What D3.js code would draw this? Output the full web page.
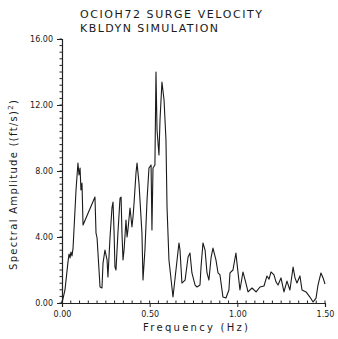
<!DOCTYPE html>
<html>
<head>
<meta charset="utf-8">
<script src="https://cdn.jsdelivr.net/npm/d3@7"></script>
<style>
  body { margin: 0; background: #fff; }
  svg text { font-family: "DejaVu Sans", sans-serif; fill: #1a1a1a; }
</style>
</head>
<body>
<svg id="chart" width="338" height="339"></svg>
<script>
// spectrum: frequency (Hz) and amplitude ((ft/s)^2)
var freq = [0.000, 0.017, 0.034, 0.040, 0.046, 0.051, 0.057, 0.063, 0.080, 0.091,
    0.097, 0.103, 0.108, 0.114, 0.120,
    0.188, 0.194, 0.200, 0.217, 0.228, 0.234, 0.245, 0.257, 0.262, 0.274,
    0.285, 0.291, 0.297, 0.302, 0.308, 0.319, 0.331, 0.337, 0.342, 0.348,
    0.354, 0.365, 0.371, 0.376, 0.388, 0.399, 0.405, 0.411, 0.422, 0.428,
    0.439, 0.456, 0.462, 0.473, 0.485, 0.496, 0.508, 0.513, 0.519, 0.530,
    0.536, 0.542, 0.553, 0.559, 0.570, 0.582, 0.593, 0.599, 0.610, 0.633,
    0.650, 0.667, 0.673, 0.684, 0.702, 0.719, 0.730, 0.741, 0.759, 0.770,
    0.787, 0.793, 0.804, 0.816, 0.827, 0.838, 0.850, 0.861, 0.878, 0.890,
    0.901, 0.918, 0.935, 0.952, 0.958, 0.975, 0.992, 0.998, 1.015, 1.032,
    1.049, 1.061,
    1.084, 1.107, 1.129, 1.152, 1.169, 1.181, 1.192, 1.209, 1.221, 1.232,
    1.249, 1.266, 1.283, 1.300, 1.318, 1.329, 1.340, 1.357, 1.369, 1.392,
    1.414, 1.432, 1.449, 1.460, 1.477, 1.489, 1.500];
var amp = [0.00, 0.79, 2.48, 2.97, 2.73, 3.09, 2.85, 3.33, 6.85, 8.48,
    7.76, 8.18, 6.85, 7.27, 4.73,
    6.42, 4.24, 3.94, 0.97, 0.91, 2.42, 3.21, 2.61, 1.58, 4.00,
    5.76, 6.12, 4.30, 2.18, 2.00, 4.24, 6.36, 6.42, 4.24, 2.61,
    3.21, 5.03, 4.00, 4.42, 5.76, 4.61, 5.21, 6.06, 7.88, 8.48,
    7.27, 4.24, 1.39, 3.21, 6.24, 8.18, 8.36, 4.42, 8.18, 8.36,
    14.00, 10.48, 8.97, 11.09, 13.39, 12.30, 9.88, 5.82, 2.61, 0.36,
    2.00, 3.64, 3.21, 1.21, 1.39, 2.79, 3.03, 1.82, 1.09, 0.97,
    1.09, 2.18, 3.64, 3.21, 1.82, 1.39, 2.73, 3.33, 2.61, 1.82,
    1.70, 0.36, 0.30, 0.79, 1.82, 2.00, 3.03, 2.42, 0.79, 1.88,
    1.21, 0.67,
    0.91, 0.67, 0.97, 1.03, 1.64, 1.45, 1.88, 1.70, 1.27, 1.09,
    1.52, 0.67, 1.33, 0.79, 2.18, 1.52, 1.21, 1.64, 0.79, 0.67,
    0.36, 0.06, 0.30, 1.09, 1.82, 1.52, 1.15];

var xTicks = [0, 0.5, 1.0, 1.5];
var yTicks = [0, 4, 8, 12, 16];
var titleLines = ["OCIOH72  SURGE  VELOCITY", "KBLDYN  SIMULATION"];

var svg = d3.select("#chart");
var margin = {top: 39, right: 13, bottom: 36, left: 62};
var width = 338 - margin.left - margin.right,
    height = 339 - margin.top - margin.bottom;

var x = d3.scaleLinear().domain([0, 1.5]).range([0, width]);
var y = d3.scaleLinear().domain([0, 16]).range([height, 0]);

var g = svg.append("g")
    .attr("transform", "translate(" + margin.left + "," + margin.top + ")");

// minor ticks
var xMinor = d3.range(0, 1.5001, 0.05);
var yMinor = d3.range(0, 16.001, 0.4);

g.selectAll(".xminor")
    .data(xMinor)
    .enter().append("line")
    .attr("x1", function(d) { return x(d); })
    .attr("x2", function(d) { return x(d); })
    .attr("y1", height)
    .attr("y2", height - 2.5)
    .attr("stroke", "#222")
    .attr("stroke-width", 1);

g.selectAll(".yminor")
    .data(yMinor)
    .enter().append("line")
    .attr("x1", 0)
    .attr("x2", -2.5)
    .attr("y1", function(d) { return y(d); })
    .attr("y2", function(d) { return y(d); })
    .attr("stroke", "#222")
    .attr("stroke-width", 1);

var xAxis = g.append("g")
    .attr("transform", "translate(0," + height + ")")
    .call(d3.axisBottom(x).tickValues(xTicks).tickFormat(d3.format(".2f")).tickSize(4).tickPadding(4));

var yAxis = g.append("g")
    .call(d3.axisLeft(y).tickValues(yTicks).tickFormat(d3.format(".2f")).tickSize(5).tickPadding(4));

[xAxis, yAxis].forEach(function(a) {
    a.select(".domain").attr("stroke", "#222").attr("stroke-width", 1.2);
    a.selectAll(".tick line").attr("stroke", "#222");
    a.selectAll(".tick text")
        .style("font-family", "'DejaVu Sans', sans-serif")
        .style("font-size", "8px")
        .attr("fill", "#1a1a1a");
});

// spectrum
var line = d3.line()
    .x(function(d, i) { return x(freq[i]); })
    .y(function(d) { return y(d); });

g.append("path")
    .datum(amp)
    .attr("fill", "none")
    .attr("stroke", "#1a1a1a")
    .attr("stroke-width", 1.1)
    .attr("stroke-linejoin", "round")
    .attr("d", line);

// titles
svg.append("text")
    .attr("x", 80).attr("y", 18)
    .attr("textLength", 182).attr("lengthAdjust", "spacing")
    .style("font-size", "11px")
    .text(titleLines[0]);

svg.append("text")
    .attr("x", 80).attr("y", 32)
    .attr("textLength", 138).attr("lengthAdjust", "spacing")
    .style("font-size", "11px")
    .text(titleLines[1]);

svg.append("text")
    .attr("x", 143).attr("y", 331)
    .attr("textLength", 105).attr("lengthAdjust", "spacing")
    .style("font-size", "10px")
    .text("Frequency  (Hz)");

var yl = svg.append("text")
    .attr("transform", "translate(17,270) rotate(-90)")
    .attr("textLength", 170).attr("lengthAdjust", "spacing")
    .style("font-size", "10px");
yl.append("tspan").text("Spectral  Amplitude  ((ft/s)");
yl.append("tspan").attr("dy", -4).style("font-size", "7px").text("2");
yl.append("tspan").attr("dy", 4).text(")");
</script>
</body>
</html>
